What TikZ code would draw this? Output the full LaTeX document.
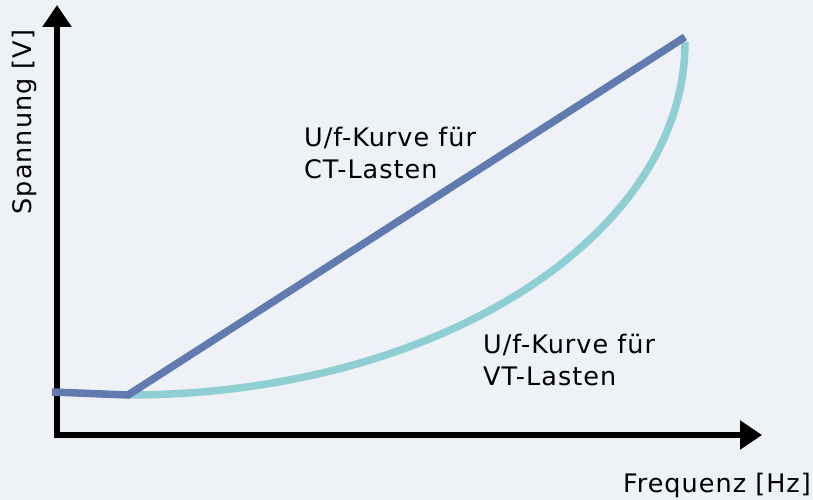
\documentclass[tikz,border=0pt]{standalone}
\usepackage{fontspec}
\setmainfont{DejaVu Sans}[LetterSpace=4]
\usetikzlibrary{arrows.meta}
\definecolor{paneback}{RGB}{238,242,247}
\definecolor{ctblue}{RGB}{97,122,176}
\definecolor{vtteal}{RGB}{143,206,210}
\tikzset{
    axisline/.style={line width=6.5pt, -{Triangle[length=22pt, width=28pt]}},
    ctcurve/.style={line width=7.5pt, draw=ctblue},
    vtcurve/.style={line width=7.5pt, draw=vtteal},
    curvenote/.style={font=\fontsize{25.5}{32}\selectfont, align=left, inner sep=0pt},
    axisnote/.style={font=\fontsize{25.5}{32}\selectfont, inner sep=0pt}
}

\begin{document}
\begin{tikzpicture}[x=1pt, y=-1pt]
    \fill[paneback] (0,0) rectangle (813,500);
    \useasboundingbox (0,0) rectangle (813,500);

    \coordinate (ytip) at (57,5);
    \coordinate (xtip) at (762,435);
    \coordinate (ystart) at (57,438);
    \coordinate (xstart) at (54,435);

    % axes
    \draw[axisline] (ystart) -- (ytip);
    \draw[axisline] (xstart) -- (xtip);

    \node[axisnote, rotate=90, anchor=base] (ylab) at (31,122) {Spannung [V]};
    \node[axisnote, anchor=base east] (xlab) at (811,492) {Frequenz [Hz]};

    % U/f curves
    \coordinate (flat) at (52,392);
    \coordinate (knee) at (128,395);
    \coordinate (ctend) at (685,37);

    % quarter ellipse for the VT curve
    \draw[vtcurve] (knee) arc[start angle=90, end angle=0, x radius=557, y radius=353];
    \draw[ctcurve] (flat) -- (knee) -- (ctend);

    \node[curvenote, anchor=base west] (ctnote) at (304,178) {U/f-Kurve für\\CT-Lasten};
    \node[curvenote, anchor=base west] (vtnote) at (483,385) {U/f-Kurve für\\VT-Lasten};
\end{tikzpicture}
\end{document}
